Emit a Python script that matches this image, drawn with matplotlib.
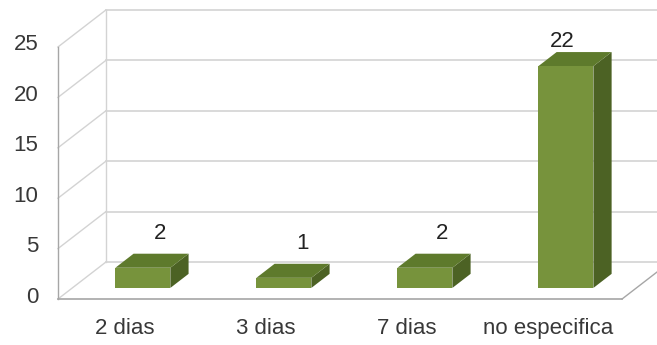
import matplotlib
matplotlib.use("Agg")
import matplotlib.pyplot as plt
from matplotlib.patches import Polygon

categories = ["2 dias", "3 dias", "7 dias", "no especifica"]
values = [2, 1, 2, 22]
yticks = [0, 5, 10, 15, 20, 25]

# pseudo-3D geometry (category units on x, value units on y)
DX, DY = 0.34, 3.67          # full depth of the floor / side wall
D0, D1 = 0.30, 0.68          # bar sits between these depth fractions
BAR_W = 0.39

FRONT = "#77933c"
TOP = "#5e7a2c"
SIDE = "#4c6224"
GRID = "#d3d3d3"
EDGE = "#a6a6a6"
TEXT = "#383838"

plt.rcParams["font.family"] = ["Liberation Sans", "DejaVu Sans"]

fig = plt.figure(figsize=(6.57, 3.45), dpi=100)
ax = fig.add_axes([0, 0, 1, 1])
ax.set_xlim(-0.911, 3.748)
ax.set_ylim(-4.56, 29.66)
ax.axis("off")

x0, x1 = -0.5, len(categories) - 0.5

# side wall diagonals and back wall gridlines
for t in yticks:
    ax.plot([x0, x0 + DX], [t, t + DY], color=GRID, lw=1, zorder=1)
    ax.plot([x0 + DX, x1 + DX + 0.2], [t + DY, t + DY], color=GRID, lw=1.2, zorder=1)
ax.plot([x0 + DX, x0 + DX], [DY, yticks[-1] + DY], color=GRID, lw=1, zorder=1)

# front edges of the side wall and floor
ax.plot([x0, x0], [0, yticks[-1]], color=EDGE, lw=1, zorder=2)
ax.plot([x0, x1], [0, 0], color=EDGE, lw=1.2, zorder=2)
ax.plot([x1, x1 + DX], [0, DY], color=EDGE, lw=1, zorder=2)

for t in yticks:
    ax.text(x0 - 0.14, t + 0.2, str(t), ha="right", va="center",
            fontsize=16, color=TEXT)

for i, (cat, v) in enumerate(zip(categories, values)):
    fx = i - BAR_W / 2 + D0 * DX
    fy = D0 * DY
    bx, by = (D1 - D0) * DX, (D1 - D0) * DY
    front = [(fx, fy), (fx + BAR_W, fy), (fx + BAR_W, fy + v), (fx, fy + v)]
    top = [(fx, fy + v), (fx + BAR_W, fy + v),
           (fx + BAR_W + bx, fy + v + by), (fx + bx, fy + v + by)]
    side = [(fx + BAR_W, fy), (fx + BAR_W + bx, fy + by),
            (fx + BAR_W + bx, fy + v + by), (fx + BAR_W, fy + v)]
    ax.add_patch(Polygon(side, closed=True, fc=SIDE, ec="none", zorder=3))
    ax.add_patch(Polygon(top, closed=True, fc=TOP, ec="none", zorder=3))
    ax.add_patch(Polygon(front, closed=True, fc=FRONT, ec="none", zorder=4))

    # value labels drift back toward the bar centre as bars get taller
    ax.text(i + 0.24 - 0.0075 * v, 0.95 * v + 4.6, str(v), ha="center",
            va="center", fontsize=16, color="#222222", zorder=5)
    ax.text(i - 0.025, -2.9, cat, ha="center", va="center",
            fontsize=16, color=TEXT)

fig.savefig("out.png", dpi=100)
